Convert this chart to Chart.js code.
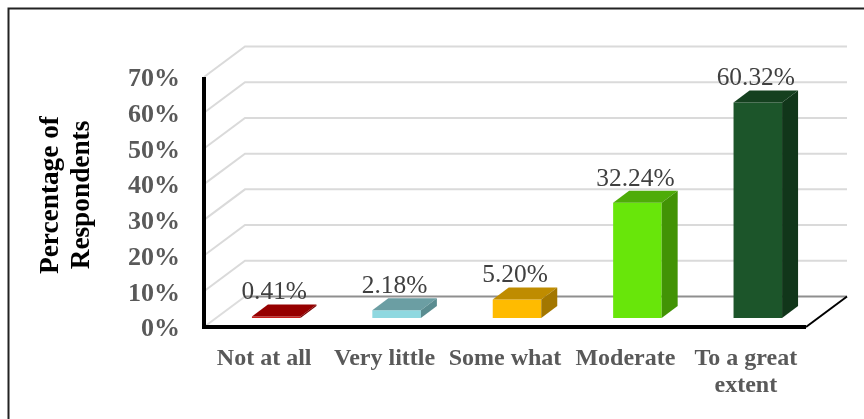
<!DOCTYPE html>
<html>
<head>
<meta charset="utf-8">
<style>
html,body{margin:0;padding:0;background:#fff;width:864px;height:419px;overflow:hidden}
#wrap{position:absolute;left:0;top:0;width:864px;height:419px}
</style>
<script src="https://cdn.jsdelivr.net/npm/chart.js@4"></script>
</head>
<body>
<div id="wrap"><canvas id="c" width="864" height="419"></canvas></div>
<script>
const categories = ['Not at all', 'Very little', 'Some what', 'Moderate', ['To a great', 'extent']];
const percentages = [0.41, 2.18, 5.20, 32.24, 60.32];
const valueLabels = ['0.41%', '2.18%', '5.20%', '32.24%', '60.32%'];
const frontColors = ['#C8201C', '#8FD8E0', '#FFBB00', '#68E60A', '#1C552A'];
const topColors = ['#960000', '#6B9EA3', '#BF8C00', '#4EAC08', '#15401F'];
const sideColors = ['#7A0000', '#5A8C90', '#A37700', '#429305', '#11361A'];
const titleLines = ['Percentage of', 'Respondents'];

const serif = '"Liberation Serif","Times New Roman",serif';
const FRONT = {dx: -12, dy: 9};
const BACK = {dx: 29, dy: -21.5};
const BAR_DEPTH = {dx: 16, dy: -12};

const walls = {
  id: 'walls',
  beforeDatasetsDraw(chart) {
    const {ctx, chartArea: a, scales: {y}} = chart;
    ctx.save();
    ctx.lineCap = 'butt';
    const fx = a.left + FRONT.dx, bx = a.left + BACK.dx, brx = a.right + BACK.dx;
    y.ticks.forEach(t => {
      const py = y.getPixelForValue(t.value);
      ctx.strokeStyle = t.value === 0 ? '#dddddd' : '#dadada';
      ctx.lineWidth = 2;
      ctx.beginPath();
      ctx.moveTo(fx, py + FRONT.dy);
      ctx.lineTo(bx, py + BACK.dy);
      if (t.value !== 0) ctx.lineTo(brx, py + BACK.dy);
      ctx.stroke();
    });
    const p0 = y.getPixelForValue(0), pTop = y.getPixelForValue(y.max);
    ctx.strokeStyle = '#8f8f8f';
    ctx.lineWidth = 2;
    ctx.beginPath();
    ctx.moveTo(bx, p0 + BACK.dy);
    ctx.lineTo(brx, p0 + BACK.dy);
    ctx.stroke();
    ctx.strokeStyle = '#000';
    ctx.lineWidth = 2;
    ctx.beginPath();
    ctx.moveTo(a.right + FRONT.dx, p0 + FRONT.dy);
    ctx.lineTo(brx, p0 + BACK.dy);
    ctx.stroke();
    ctx.lineWidth = 4;
    ctx.beginPath();
    ctx.moveTo(fx, pTop + FRONT.dy);
    ctx.lineTo(fx, p0 + FRONT.dy);
    ctx.lineTo(a.right + FRONT.dx, p0 + FRONT.dy);
    ctx.stroke();
    ctx.restore();
  },
  afterDatasetsDraw(chart) {
    const {ctx} = chart;
    const meta = chart.getDatasetMeta(0);
    ctx.save();
    meta.data.forEach((bar, i) => {
      const {x, y, base, width} = bar.getProps(['x', 'y', 'base', 'width'], true);
      const l = x - width / 2, r = x + width / 2;
      const {dx, dy} = BAR_DEPTH;
      ctx.fillStyle = topColors[i];
      ctx.beginPath();
      ctx.moveTo(l, y); ctx.lineTo(l + dx, y + dy); ctx.lineTo(r + dx, y + dy); ctx.lineTo(r, y);
      ctx.closePath(); ctx.fill();
      ctx.fillStyle = sideColors[i];
      ctx.beginPath();
      ctx.moveTo(r, y); ctx.lineTo(r + dx, y + dy); ctx.lineTo(r + dx, base + dy); ctx.lineTo(r, base);
      ctx.closePath(); ctx.fill();
      ctx.fillStyle = '#404040';
      ctx.font = '25.4px ' + serif;
      ctx.textAlign = 'center';
      ctx.textBaseline = 'middle';
      ctx.fillText(valueLabels[i], x - 2, y - 24);
    });
    // rotated two-line axis title
    ctx.fillStyle = '#000';
    ctx.font = 'bold 27.3px ' + serif;
    ctx.textAlign = 'center';
    ctx.textBaseline = 'middle';
    titleLines.forEach((line, i) => {
      ctx.save();
      ctx.translate(51 + i * 31, 195);
      ctx.rotate(-Math.PI / 2);
      ctx.fillText(line, 0, 0);
      ctx.restore();
    });
    ctx.restore();
  }
};

new Chart(document.getElementById('c'), {
  type: 'bar',
  data: {
    labels: categories,
    datasets: [{
      data: percentages,
      backgroundColor: frontColors,
      borderWidth: 0,
      barPercentage: 0.403,
      categoryPercentage: 1
    }]
  },
  options: {
    responsive: false,
    animation: false,
    devicePixelRatio: 1,
    layout: {padding: {top: 68, right: 46, bottom: 0, left: 0}},
    plugins: {legend: {display: false}, tooltip: {enabled: false}, title: {display: false}},
    scales: {
      x: {
        afterFit(s) { s.height = 101; },
        grid: {display: false, drawTicks: false},
        border: {display: false},
        ticks: {
          color: '#595959',
          font: {family: serif, size: 24, weight: 'bold', lineHeight: 1.12},
          padding: 27,
          labelOffset: -12,
          maxRotation: 0,
          minRotation: 0,
          autoSkip: false
        }
      },
      y: {
        min: 0,
        max: 70,
        afterFit(s) { s.width = 216; },
        grid: {display: false, drawTicks: false},
        border: {display: false},
        ticks: {
          stepSize: 10,
          color: '#595959',
          font: {family: serif, size: 26, weight: 'bold'},
          padding: 36,
          labelOffset: 11.5,
          callback: v => v + '%'
        }
      }
    }
  },
  plugins: [walls, {
    id: 'frame',
    beforeDraw(chart) {
      const {ctx, width, height} = chart;
      ctx.save();
      ctx.fillStyle = '#fff';
      ctx.fillRect(0, 0, width, height);
      ctx.strokeStyle = '#222';
      ctx.lineWidth = 2;
      ctx.beginPath();
      ctx.moveTo(8.5, height);
      ctx.lineTo(8.5, 8.5);
      ctx.lineTo(width, 8.5);
      ctx.stroke();
      ctx.restore();
    }
  }]
});
</script>
</body>
</html>
